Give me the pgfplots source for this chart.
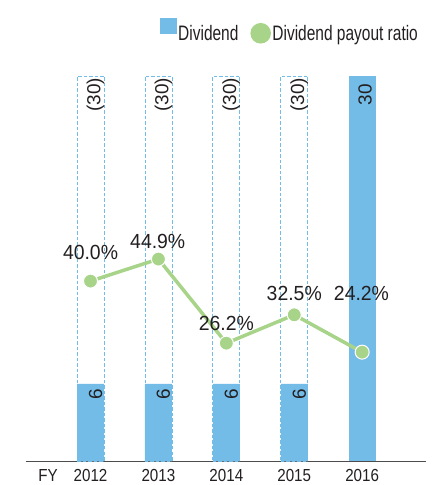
\documentclass[border=0pt]{standalone}
\usepackage{pgfplots}
\pgfplotsset{compat=1.18}
\usepackage{fontspec}
\setmainfont{Liberation Sans}[FakeStretch=0.87]
\newfontfamily\lblfont{Liberation Sans}[FakeStretch=0.95]
\newfontfamily\legfont{Liberation Sans}[FakeStretch=0.74]
\newfontfamily\barfont{Liberation Sans}
\definecolor{barblue}{HTML}{74BCE8}
\definecolor{lgreen}{HTML}{A8D48A}
\definecolor{txt}{HTML}{231F20}
\begin{document}
\begin{tikzpicture}
\path[use as bounding box] (-26bp,-24bp) rectangle (417bp,461bp);
\begin{axis}[at={(0,0)}, anchor=south west, scale only axis,
  width=400bp, height=385bp,
  xmin=-0.95, xmax=4.94, ymin=0, ymax=30,
  axis x line=bottom, axis y line=none,
  axis line style={-, draw=black!70, line width=0.8bp},
  xtick={0,1,2,3,4}, xticklabels={2012,2013,2014,2015,2016},
  major tick length=0pt,
  xticklabel style={font=\fontsize{17.5}{17.5}\selectfont, text=txt, anchor=base, inner sep=0pt, yshift=-20.5bp},
  ytick=\empty,
  /pgf/number format/assume math mode=true,
  clip=false]
\addplot[ybar, bar shift=0pt, bar width=27bp, draw=barblue, fill=white,
  dash pattern=on 3.5bp off 2bp, line width=0.8bp,
  nodes near coords={(\pgfmathprintnumber{\pgfplotspointmeta})},
  every node near coord/.append style={rotate=90, anchor=east, inner xsep=1.5bp, inner ysep=0pt,
    yshift=-5bp, font=\barfont\fontsize{19}{19}\selectfont, text=txt}]
  coordinates {(0,30) (1,30) (2,30) (3,30)};
\addplot[ybar, bar shift=0pt, bar width=27bp, draw=none, fill=barblue,
  nodes near coords,
  every node near coord/.append style={rotate=90, anchor=east, inner xsep=5bp, inner ysep=0pt,
    yshift=-5bp, font=\barfont\fontsize{19}{19}\selectfont, text=txt}]
  coordinates {(0,6) (1,6) (2,6) (3,6)};
\addplot[ybar, bar shift=0pt, bar width=27bp, draw=none, fill=barblue,
  nodes near coords,
  every node near coord/.append style={rotate=90, anchor=east, inner xsep=8bp, inner ysep=0pt,
    yshift=-3bp, font=\barfont\fontsize{19}{19}\selectfont, text=txt}]
  coordinates {(4,30)};
\node[anchor=base, inner sep=0pt, font=\fontsize{17.5}{17.5}\selectfont, text=txt] at ([yshift=-20.5bp]axis cs:-0.626,0) {FY};
\end{axis}
\begin{axis}[at={(0,0)}, anchor=south west, scale only axis,
  width=400bp, height=385bp,
  xmin=-0.95, xmax=4.94, ymin=0, ymax=85.6,
  hide axis, clip=false,
  legend columns=2,
  legend style={at={(0.984,1.151)}, anchor=north east, draw=none, fill=none,
    inner sep=0pt, font=\legfont\fontsize{21}{21}\selectfont, text=txt,
    /tikz/every even column/.append style={column sep=10.5bp},
    nodes={inner sep=1.5bp}}]
\addlegendimage{legend image code/.code={\fill[barblue] (0bp,0bp) rectangle (16bp,15bp); \path (0bp,-2.8bp);}}
\addlegendentry{Dividend}
\addplot[lgreen, line width=3.5bp, mark=*, mark size=7bp,
  mark options={fill=lgreen, draw=white, line width=1bp},
  legend image code/.code={\fill[lgreen] (8.5bp,0bp) circle (8.5bp); \path (8.5bp,-10.3bp);}]
  coordinates {(0,40.0) (1,44.9) (2,26.2) (3,32.5) (4,24.2)};
\addlegendentry{Dividend payout ratio}
\begin{scope}[every node/.style={anchor=base, font=\lblfont\fontsize{20.5}{20.5}\selectfont, text=txt}]
\node at (axis cs:0,44.9) {40.0\%};
\node at (axis cs:0.99,47.3) {44.9\%};
\node at (axis cs:2,29.1) {26.2\%};
\node at (axis cs:3,35.6) {32.5\%};
\node at (axis cs:3.99,35.6) {24.2\%};
\end{scope}
\end{axis}
\end{tikzpicture}
\end{document}
